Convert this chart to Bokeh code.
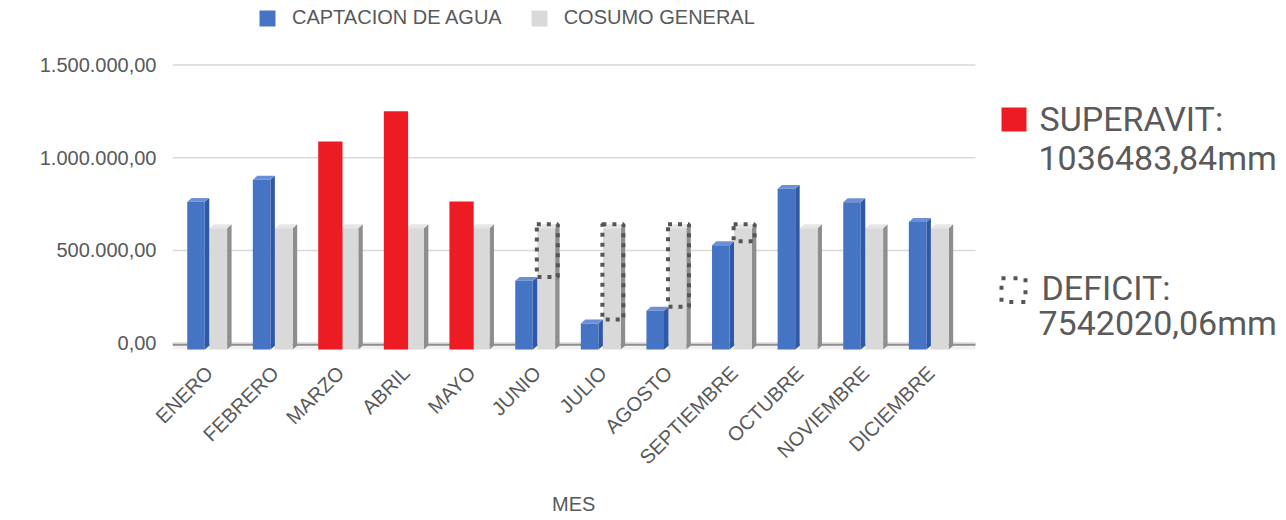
import numpy as np
from bokeh.plotting import figure
from bokeh.models import Range1d, FixedTicker, Legend, LegendItem, BoxAnnotation
from bokeh.embed import file_html
from bokeh.resources import INLINE
from bokeh.core.properties import value

# ---------------- data ----------------
months = ["ENERO", "FEBRERO", "MARZO", "ABRIL", "MAYO", "JUNIO", "JULIO",
          "AGOSTO", "SEPTIEMBRE", "OCTUBRE", "NOVIEMBRE", "DICIEMBRE"]
captacion = [762000, 881000, 1087000, 1250000, 764000, 336000, 106000,
             175000, 528000, 832000, 760000, 653000]
consumo = [620000, 620000, 620000, 620000, 620000, 620000, 620000,
           620000, 620000, 620000, 620000, 620000]
superavit_months = ["MARZO", "ABRIL", "MAYO"]
series_names = ["CAPTACION DE AGUA", "COSUMO GENERAL"]
y_ticks = [0, 500000, 1000000, 1500000]
y_tick_labels = ["0,00", "500.000,00", "1.000.000,00", "1.500.000,00"]
x_title = "MES"
superavit_label = "SUPERAVIT:"
superavit_value = "1036483,84mm"
deficit_label = "DEFICIT:"
deficit_value = "7542020,06mm"

# ---------------- style / geometry ----------------
FONT = "Liberation Sans"
FS = "20px"
TXT = "#595959"
BLUE, BLUE_SIDE, BLUE_TOP = "#4674c4", "#2f58a6", "#6b90d6"
GRAY, GRAY_SIDE, GRAY_TOP = "#d9d9d9", "#8e8e8e", "#e6e6e6"
RED = "#ed1c24"
D = 35000    # front face drop below floor
E = 21000    # depth rise
S = 0.068    # depth shift (x units)

X0, PXU = -0.0625, 65.6          # x range start, pixels per category
Y0PX, PXV = 345.5, 187e-6        # canvas y of zero, pixels per unit value
FRAME_L = 172
CHART_END = X0 + (975 - FRAME_L) / PXU
W, H = 1280, 518


def cx(px):   # canvas px -> x data (for side annotations)
    return X0 + (px - FRAME_L) / PXU


def cy(py):   # canvas px -> y data
    return (Y0PX - py) / PXV


p = figure(width=W, height=H, x_range=Range1d(X0, cx(W)),
           y_range=Range1d(cy(356), cy(0)), output_backend="svg",
           toolbar_location=None, min_border_left=FRAME_L, min_border_right=0,
           min_border_top=0, min_border_bottom=H - 356)
p.outline_line_color = None
p.grid.grid_line_color = None

# gridlines limited to chart area
p.segment(x0=[X0] * len(y_ticks), x1=[CHART_END] * len(y_ticks), y0=y_ticks,
          y1=y_ticks, line_color="#d9d9d9", line_width=1.5)

# floor
p.add_layout(BoxAnnotation(left=X0, right=CHART_END, bottom=-D, top=0,
                           fill_color="#f1f1f1", fill_alpha=1, line_color=None,
                           level="underlay"))
p.add_layout(BoxAnnotation(left=X0, right=CHART_END, bottom=-14000, top=-2500,
                           fill_color="#8e8e8e", fill_alpha=1, line_color=None,
                           level="underlay"))


def bar3d(left, right, vals, front, side, top):
    fr = dict(left=left, right=right, bottom=[-D] * len(vals), top=vals)
    sxs = [[r, r + S, r + S, r] for r in right]
    sys = [[-D, -D + E, v + E, v] for v in vals]
    txs = [[l, l + S, r + S, r] for l, r in zip(left, right)]
    tys = [[v, v + E, v + E, v] for v in vals]
    p.patches(sxs, sys, fill_color=side, line_color=None)
    p.patches(txs, tys, fill_color=top, line_color=None)
    return p.quad(**fr, fill_color=front, line_color=None)


centers = [i + 0.5 for i in range(len(months))]

# consumo (gray)
g = bar3d([c + 0.0 for c in centers], [c + 0.27 for c in centers], consumo,
          GRAY, GRAY_SIDE, GRAY_TOP)

# captacion (blue) - non-highlighted months
bi = [i for i, m in enumerate(months) if m not in superavit_months]
b = bar3d([centers[i] - 0.338 for i in bi], [centers[i] - 0.070 for i in bi],
          [captacion[i] for i in bi], BLUE, BLUE_SIDE, BLUE_TOP)

# superavit months (red flat)
ri = [i for i, m in enumerate(months) if m in superavit_months]
p.quad(left=[centers[i] - 0.341 for i in ri], right=[centers[i] + 0.029 for i in ri],
       bottom=[-D] * len(ri), top=[captacion[i] for i in ri],
       fill_color=RED, line_color=None)

# deficit (dotted boxes)
di = [i for i in range(len(months)) if captacion[i] < consumo[i]]
p.quad(left=[centers[i] - 0.009 for i in di], right=[centers[i] + 0.311 for i in di],
       bottom=[captacion[i] + E for i in di], top=[consumo[i] + E for i in di],
       fill_color=None, line_color="#555555", line_width=4, line_dash="4 6")

# axes
p.yaxis.ticker = FixedTicker(ticks=y_ticks)
p.yaxis.major_label_overrides = {t: l for t, l in zip(y_ticks, y_tick_labels)}
p.yaxis.axis_line_color = None
p.yaxis.major_tick_line_color = None
p.yaxis.major_tick_out = 0
p.yaxis.minor_tick_line_color = None
p.yaxis.major_label_standoff = 16
p.yaxis.major_label_text_font = FONT
p.yaxis.major_label_text_font_size = FS
p.yaxis.major_label_text_color = TXT

p.xaxis.ticker = FixedTicker(ticks=centers)
p.xaxis.major_label_overrides = {c: m for c, m in zip(centers, months)}
p.xaxis.major_label_orientation = np.pi / 4
p.xaxis.axis_line_color = None
p.xaxis.major_tick_line_color = None
p.xaxis.major_tick_out = 0
p.xaxis.minor_tick_line_color = None
p.xaxis.major_label_standoff = 16
p.xaxis.major_label_text_font = FONT
p.xaxis.major_label_text_font_size = FS
p.xaxis.major_label_text_color = TXT
# axis title centred under the chart area: pad with no-break spaces
p.xaxis.axis_label = x_title + "\u00a0" * 55
p.xaxis.axis_label_text_font = FONT
p.xaxis.axis_label_text_font_size = FS
p.xaxis.axis_label_text_font_style = "normal"
p.xaxis.axis_label_text_color = TXT
p.xaxis.axis_label_standoff = 14

legend = Legend(items=[LegendItem(label=series_names[0], renderers=[b]),
                       LegendItem(label=series_names[1], renderers=[g])],
                orientation="horizontal", location=(85, 324),
                border_line_color=None, background_fill_alpha=0,
                padding=0, margin=0, spacing=27, label_standoff=15,
                glyph_width=20, glyph_height=20, label_height=20,
                label_text_font=FONT, label_text_font_size=FS,
                label_text_color=TXT)
p.add_layout(legend)

# ---------------- side annotations ----------------
p.quad(left=[cx(1001)], right=[cx(1026)], top=[cy(108)], bottom=[cy(132)],
       fill_color=RED, line_color=None)
p.quad(left=[cx(1001)], right=[cx(1025)], top=[cy(280)], bottom=[cy(304)],
       fill_color=None, line_color="#555555", line_width=4, line_dash="4 8")
p.text(x=[cx(1039), cx(1038), cx(1041), cx(1038)],
       y=[cy(120), cy(159), cy(290), cy(325)],
       text=[superavit_label, superavit_value, deficit_label, deficit_value],
       text_font=value("Roboto"), text_font_size="34px", text_color="#5a5a5a",
       text_baseline="alphabetic", text_align="left")

open("out.html", "w").write(file_html(p, INLINE))
